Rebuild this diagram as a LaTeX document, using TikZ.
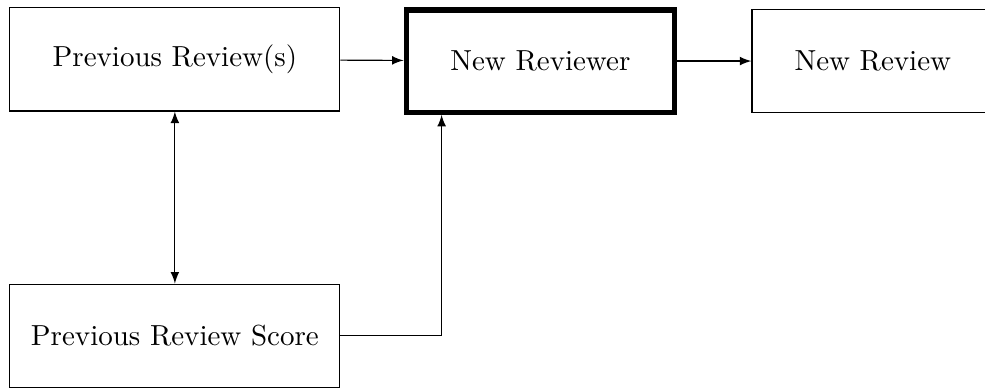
\documentclass[tikz,border=0pt]{standalone}
\usepackage{amsmath}
\usepackage{tikz}
\usetikzlibrary{arrows}

\begin{document}
\begin{tikzpicture}[box/.style={draw,minimum width=4cm,minimum height=1.25cm}]
  \useasboundingbox (0,0) rectangle (11.94,-4.74);
  \node[box] (prev) at (2.12,-0.72) {Previous Review(s)};
  \node[box] (score) at (2.12,-4.07) {Previous Review Score};
  \node[box,line width=1.8pt,minimum width=3.25cm,minimum height=1.24cm] (newr) at (6.55,-0.74) {New Reviewer};
  \node[box,minimum width=2.93cm] (newrev) at (10.58,-0.74) {New Review};
  \draw[-latex] (prev) -- (newr);
  \draw[-latex] (newr.east) -- (newrev.west);
  \draw[latex-latex] (prev) -- (score);
  \draw[-latex] (score.east) -| ([xshift=0.46cm]newr.south west);
\end{tikzpicture}
\end{document}
